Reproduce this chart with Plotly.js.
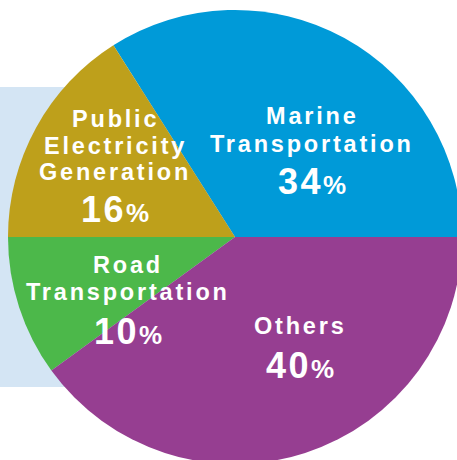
<!DOCTYPE html>
<html>
<head>
<meta charset="utf-8">
<script src="https://cdn.plot.ly/plotly-3.0.1.min.js"></script>
<style>
  html, body { margin: 0; padding: 0; background: #ffffff; overflow: hidden; }
  #wrap { width: 457px; height: 460px; overflow: hidden; position: relative; }
  #chart { position: absolute; left: 0; top: 0; }
</style>
</head>
<body>
<div id="wrap"><div id="chart"></div></div>
<script>
// ---- data ----
const categories = ['Marine Transportation', 'Public Electricity Generation', 'Road Transportation', 'Others'];
const shares = [34, 16, 10, 40];
const labelLines = [['Marine', 'Transportation'], ['Public', 'Electricity', 'Generation'], ['Road', 'Transportation'], ['Others']];
const sliceColors = ['#009AD8', '#BEA01B', '#4CB84A', '#963E91'];

// ---- layout (pixels) ----
const W = 470, H = 474;
const labelCenterX = [312, 115, 128, 300];
const firstBaseline = [124, 127.3, 273.3, 334];
const lineGap = [28, 26.5, 26.7, 0];
const pctBaseline = [194, 221.7, 344, 377.7];
const labelSize = 23.5, numSize = 36, pctSize = 26;

const px = x => x / W;
const py = y => 1 - y / H;
const FONT = '"Liberation Sans", Arial, Helvetica, sans-serif';

const annotations = [];
categories.forEach((c, i) => {
  labelLines[i].forEach((ln, j) => {
    const base = firstBaseline[i] + j * lineGap[i];
    annotations.push({
      xref: 'paper', yref: 'paper',
      x: px(labelCenterX[i]), y: py(base - 0.3465 * labelSize),
      xanchor: 'center', yanchor: 'middle', showarrow: false,
      text: '<span style="letter-spacing:2.8px">' + ln + '</span>',
      font: {family: FONT, size: labelSize, color: '#ffffff', weight: 'bold'}
    });
  });
  annotations.push({
    xref: 'paper', yref: 'paper',
    x: px(labelCenterX[i]), y: py(pctBaseline[i] - 0.3465 * numSize),
    xanchor: 'center', yanchor: 'middle', showarrow: false,
    text: '<span style="letter-spacing:2.5px">' + shares[i] + '</span><span style="font-size:' + pctSize + 'px">%</span>',
    font: {family: FONT, size: numSize, color: '#ffffff', weight: 'bold'}
  });
});

// first slice starts at 3 o'clock and runs counterclockwise
const total = shares.reduce((a, b) => a + b, 0);
const startRotation = 90 - 360 * shares[0] / total;

const trace = {
  type: 'pie',
  labels: categories,
  values: shares,
  sort: false,
  direction: 'counterclockwise',
  rotation: startRotation,
  marker: {colors: sliceColors, line: {width: 0}},
  textinfo: 'none',
  hoverinfo: 'skip',
  showlegend: false,
  domain: {x: [px(8), px(462)], y: [py(464), py(10)]}
};

const layout = {
  width: W, height: H,
  margin: {l: 0, r: 0, t: 0, b: 0},
  paper_bgcolor: '#ffffff',
  showlegend: false,
  shapes: [{
    type: 'rect', xref: 'paper', yref: 'paper', layer: 'below',
    x0: 0, x1: 0.5, y0: py(387), y1: py(87),
    fillcolor: '#D4E5F4', line: {width: 0}
  }],
  annotations: annotations
};

Plotly.newPlot('chart', [trace], layout, {staticPlot: true, displayModeBar: false});
</script>
</body>
</html>
